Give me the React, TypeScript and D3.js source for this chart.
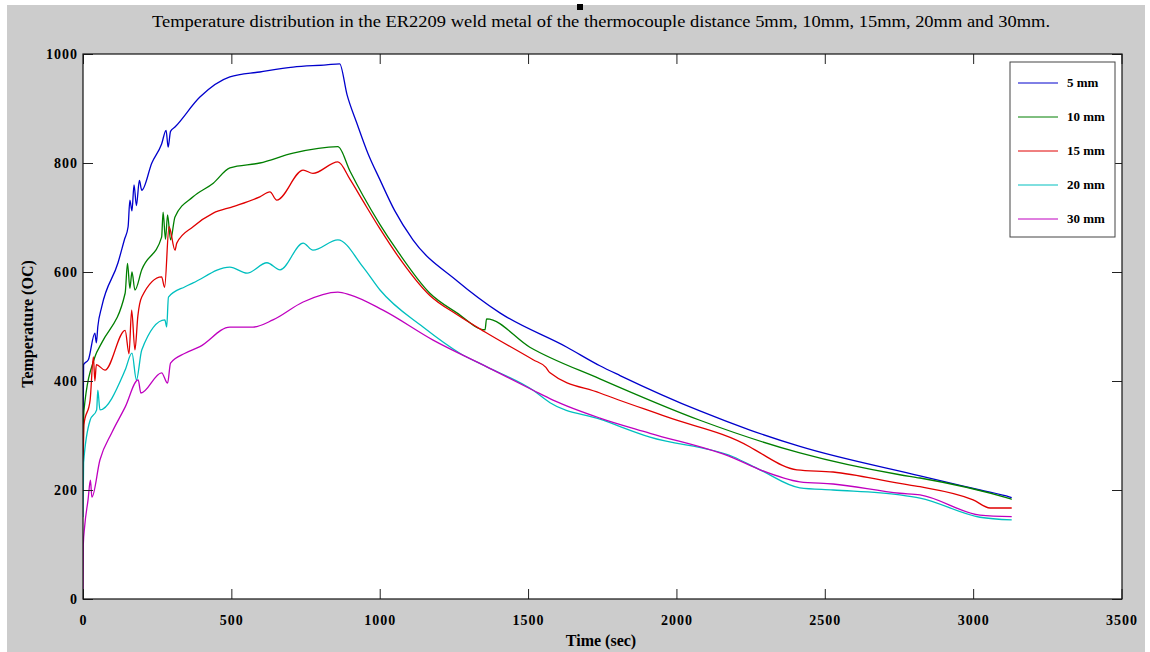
import React, { useEffect, useRef } from 'react';
import * as d3 from 'd3';

const width = 1150;
const height = 652;
const margin = { top: 54, right: 28, bottom: 53, left: 83 };
const font = '"Liberation Serif", "Times New Roman", serif';

// readings of the thermocouples, time in sec and temperature in deg C
const t5 = [0, 2, 18, 40, 45, 50, 63, 118, 140, 152, 158, 165, 172, 180, 190, 198, 232, 265, 280, 287, 295, 310, 394, 495, 596, 708, 820, 865, 890, 923, 960, 1001, 1050, 1112, 1260, 1405, 1631, 1742, 1810, 2079, 2248, 2416, 2821, 3023, 3124, 3130];
const v5 = [300, 430, 439, 488, 470, 500, 536, 617, 660, 683, 732, 712, 760, 722, 768, 750, 800, 835, 860, 829, 858, 866, 921, 958, 967, 976, 980, 982, 925, 873, 818, 769, 713, 659, 584, 525, 462, 428, 410, 345, 310, 280, 226, 200, 187, 186];

const t10 = [0, 3, 40, 63, 142, 150, 158, 165, 175, 198, 265, 270, 278, 285, 295, 310, 371, 439, 495, 596, 708, 859, 900, 944, 1000, 1058, 1169, 1260, 1355, 1360, 1506, 1742, 2079, 2416, 2753, 2821, 3124, 3130];
const v10 = [220, 345, 444, 470, 561, 616, 570, 600, 567, 604, 664, 710, 660, 705, 659, 701, 738, 763, 791, 800, 818, 830, 785, 740, 688, 640, 561, 525, 494, 514, 462, 404, 328, 268, 228, 222, 184, 183];

const t15 = [0, 3, 24, 35, 40, 45, 74, 142, 155, 164, 175, 185, 198, 265, 275, 290, 310, 316, 371, 439, 506, 596, 630, 653, 742, 775, 859, 900, 944, 1000, 1058, 1169, 1260, 1355, 1517, 1560, 1574, 1742, 1968, 2248, 2282, 2406, 2528, 2753, 2821, 3000, 3057, 3130];
const v15 = [200, 320, 365, 444, 400, 430, 420, 493, 450, 530, 457, 520, 554, 591, 572, 683, 640, 653, 683, 708, 720, 738, 747, 732, 787, 781, 802, 770, 730, 680, 632, 557, 522, 490, 439, 425, 415, 378, 334, 279, 268, 237, 233, 212, 206, 182, 167, 167];

const t20 = [0, 2, 24, 46, 50, 57, 142, 165, 180, 198, 276, 282, 288, 344, 371, 495, 553, 620, 664, 742, 775, 859, 944, 1001, 1146, 1270, 1361, 1517, 1574, 1742, 1911, 2191, 2282, 2416, 2528, 2753, 2821, 3023, 3130];
const v20 = [150, 250, 328, 347, 383, 347, 420, 451, 402, 457, 512, 499, 554, 573, 580, 609, 598, 617, 604, 653, 640, 659, 609, 567, 499, 451, 426, 383, 360, 330, 297, 261, 237, 204, 200, 191, 185, 150, 145];

const t30 = [0, 1, 5, 17, 25, 30, 57, 97, 142, 186, 195, 265, 285, 295, 344, 394, 495, 573, 640, 742, 859, 900, 1011, 1180, 1361, 1517, 1584, 1742, 1911, 2191, 2282, 2416, 2528, 2753, 2821, 3023, 3130];
const v30 = [0, 100, 130, 182, 218, 187, 255, 305, 352, 402, 378, 415, 396, 433, 451, 463, 499, 499, 512, 545, 563, 558, 530, 475, 426, 383, 365, 332, 304, 259, 237, 215, 211, 194, 191, 154, 151];

const labels = ['5 mm', '10 mm', '15 mm', '20 mm', '30 mm'];
const colors = ['#0000cc', '#007f00', '#e00000', '#00bfbf', '#bf00bf'];
const times = [t5, t10, t15, t20, t30];
const temps = [v5, v10, v15, v20, v30];

const xTicks = [0, 500, 1000, 1500, 2000, 2500, 3000, 3500];
const yTicks = [0, 200, 400, 600, 800, 1000];

const x = d3.scaleLinear().domain([0, 3500]).range([margin.left, width - margin.right - 0.5]);
const y = d3.scaleLinear().domain([0, 1000]).range([height - margin.bottom, margin.top]);

const line = d3.line<[number, number]>().x(d => x(d[0])).y(d => y(d[1])).curve(d3.curveMonotoneX);

export default function App() {
  const bottomRef = useRef<SVGGElement>(null);
  const topRef = useRef<SVGGElement>(null);
  const leftRef = useRef<SVGGElement>(null);
  const rightRef = useRef<SVGGElement>(null);

  useEffect(() => {
    const style = (g: any) => {
      g.select('.domain').remove();
      g.selectAll('line').attr('stroke', '#222');
      g.selectAll('text').attr('font-family', font).attr('font-weight', 'bold').attr('font-size', 14)
        .attr('letter-spacing', 1).attr('fill', '#000');
    };
    d3.select(bottomRef.current!).call(d3.axisBottom(x).tickValues(xTicks).tickSizeInner(-10).tickSizeOuter(0).tickPadding(16).tickFormat(d3.format('d'))).call(style);
    d3.select(topRef.current!).call(d3.axisTop(x).tickValues(xTicks).tickSizeInner(-10).tickSizeOuter(0).tickFormat(() => '')).call(style);
    d3.select(leftRef.current!).call(d3.axisLeft(y).tickValues(yTicks).tickSizeInner(-10).tickSizeOuter(0).tickPadding(5).tickFormat(d3.format('d'))).call(style);
    d3.select(rightRef.current!).call(d3.axisRight(y).tickValues(yTicks).tickSizeInner(-10).tickSizeOuter(0).tickFormat(() => '')).call(style);
  }, []);

  const x0 = margin.left;
  const x1 = width - margin.right;
  const y0 = margin.top;
  const y1 = height - margin.bottom;

  return (
    <svg width={width} height={height} style={{ position: 'absolute', left: 0, top: 0 }}>
      <rect x={0} y={0} width={width} height={height} fill="#fff" />
      <rect x={7} y={5} width={1138} height={height - 5} fill="#cccccc" />
      <rect x={577} y={4} width={6} height={6} fill="#000" />
      <text x={601} y={27} textAnchor="middle" fontFamily={font} fontSize={17} textLength={898} lengthAdjust="spacingAndGlyphs">
        Temperature distribution in the ER2209 weld metal of the thermocouple distance 5mm, 10mm, 15mm, 20mm and 30mm.
      </text>
      <rect x={x0} y={y0} width={x1 - x0} height={y1 - y0} fill="#fff" />
      <g clipPath="url(#plotclip)">
        <clipPath id="plotclip">
          <rect x={x0} y={y0} width={x1 - x0} height={y1 - y0} />
        </clipPath>
        {times.map((ts, i) => (
          <path key={labels[i]} d={line(ts.map((t, j) => [t, temps[i][j]] as [number, number])) || ''}
            fill="none" stroke={colors[i]} strokeWidth={1.3} strokeLinejoin="round" />
        ))}
      </g>
      <g ref={bottomRef} transform={`translate(0,${y1})`} />
      <g ref={topRef} transform={`translate(0,${y0})`} />
      <g ref={leftRef} transform={`translate(${x0},0)`} />
      <g ref={rightRef} transform={`translate(${x1},0)`} />
      <rect x={x0} y={y0} width={x1 - x0} height={y1 - y0} fill="none" stroke="#111" strokeWidth={1.2} />
      <text x={601} y={646} textAnchor="middle" fontFamily={font} fontWeight="bold" fontSize={16}>Time (sec)</text>
      <text transform="translate(33,324) rotate(-90)" textAnchor="middle" fontFamily={font} fontWeight="bold" fontSize={16}>Temperature (OC)</text>
      <g>
        <rect x={1010} y={62} width={105} height={175} fill="#fff" stroke="#444" strokeWidth={1} />
        {labels.map((l, i) => (
          <g key={l} transform={`translate(0,${83 + i * 34})`}>
            <line x1={1018} x2={1058} y1={0} y2={0} stroke={colors[i]} strokeWidth={1} />
            <text x={1067} y={4} fontFamily={font} fontWeight="bold" fontSize={13}>{l}</text>
          </g>
        ))}
      </g>
    </svg>
  );
}
